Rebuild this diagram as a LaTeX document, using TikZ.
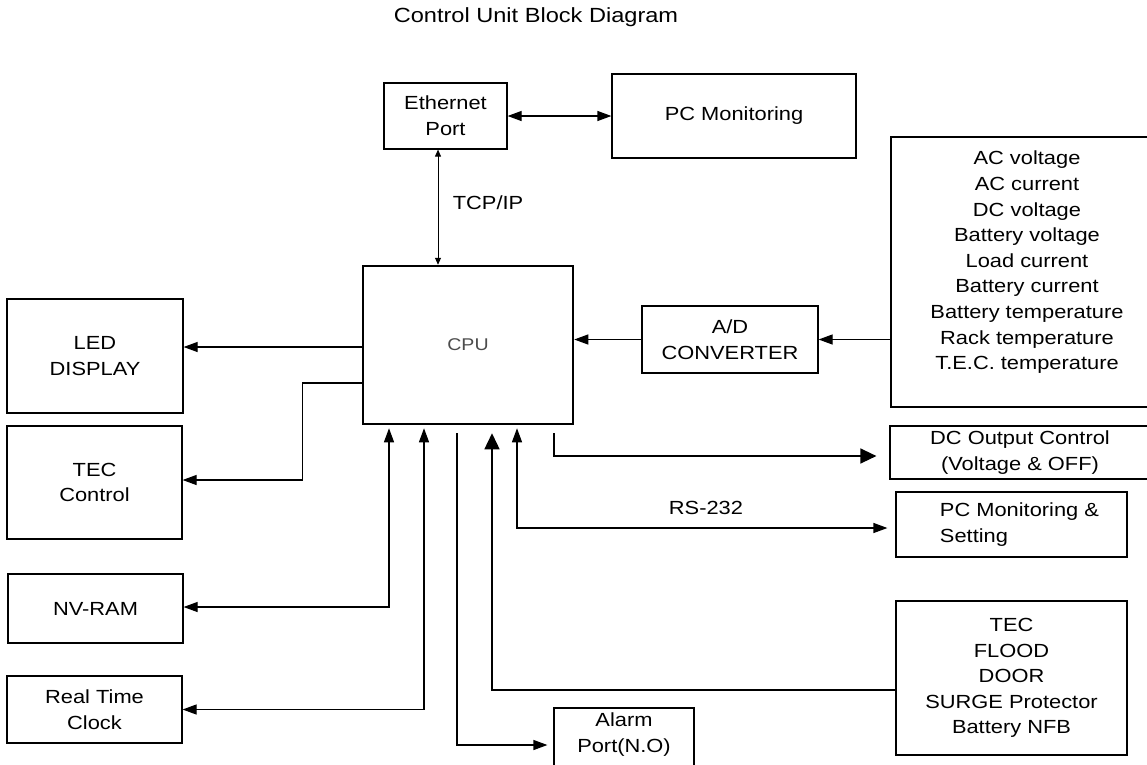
\documentclass[tikz,border=0pt]{standalone}
\usepackage{fontspec}
\setmainfont{Liberation Sans}[FakeStretch=1.15]
\usepackage{tikz}
\usetikzlibrary{positioning,arrows.meta}

\tikzset{
  blk/.style={draw,line width=1.2pt,rectangle,inner sep=0pt,align=center,
    font=\fontsize{19}{25.6}\selectfont},
  lbl/.style={inner sep=0pt,font=\fontsize{19}{25.6}\selectfont},
  arr/.style={line width=1.2pt,-{Triangle[length=14pt,width=10pt]}},
  dbl/.style={line width=1.2pt,{Triangle[length=14pt,width=10pt]}-{Triangle[length=14pt,width=10pt]}},
  bigarr/.style={line width=1.4pt,-{Triangle[length=16pt,width=15pt]}},
  thinarr/.style={line width=0.9pt,{Triangle[length=7pt,width=6pt]}-{Triangle[length=7pt,width=6pt]}}
}

\begin{document}
\begin{tikzpicture}[x=1pt,y=-1pt]
  \useasboundingbox (0,0) rectangle (1147,764);
  \node[lbl,font=\fontsize{20.5}{24}\selectfont] (title) at (536,17) {Control Unit Block Diagram};

  % top
  \node[blk,minimum width=123pt,minimum height=66pt] (eth) at (445.5,116) {Ethernet\\Port};
  \node[blk,minimum width=244pt,minimum height=84pt] (pcmon) at (734,116) {PC Monitoring};

  % middle
  \node[blk,line width=2.5pt,minimum width=210pt,minimum height=158pt,text=black!70,
    font=\fontsize{17}{20}\selectfont] (cpu) at (468,345) {CPU};
  \node[blk,minimum width=176pt,minimum height=67pt] (adc) at (730,339.5) {A/D\\CONVERTER};
  \node[blk,minimum width=272pt,minimum height=270pt,text depth=23pt] (sens) at (1027,272)
    {AC voltage\\AC current\\DC voltage\\Battery voltage\\Load current\\Battery current\\Battery temperature\\Rack temperature\\T.E.C. temperature};

  % left
  \node[blk,minimum width=176pt,minimum height=114pt] (led) at (95,356) {LED\\DISPLAY};
  \node[blk,minimum width=175pt,minimum height=113pt] (teco) at (94.5,482.5) {TEC\\Control};
  \node[blk,minimum width=175pt,minimum height=69pt] (nvram) at (95.5,608.5) {NV-RAM};
  \node[blk,minimum width=175pt,minimum height=67pt] (rtc) at (94.5,709.5) {Real Time\\Clock};

  % right / bottom
  \node[blk,minimum width=260pt,minimum height=53pt] (dcout) at (1020,452.5) {DC Output Control\\(Voltage \& OFF)};
  \node[blk,minimum width=231pt,minimum height=65pt,align=left] (pcset) at (1011.5,524.5)
    {\hspace*{16pt}PC Monitoring \&\\\hspace*{16pt}Setting};
  \node[blk,minimum width=231pt,minimum height=154pt] (tecin) at (1011.5,678) {TEC\\FLOOD\\DOOR\\SURGE Protector\\Battery NFB};
  \node[blk,minimum width=140pt,minimum height=62pt,text depth=13pt] (alarm) at (624,739) {Alarm\\Port(N.O)};

  % connections
  \draw[dbl] (eth.east) -- (pcmon.west);
  \coordinate (tcp) at ([xshift=-7.5pt]eth.south);
  \draw[thinarr] (tcp) -- (tcp |- cpu.north);
  \node[lbl] (tcplbl) at (488,203) {TCP/IP};

  \draw[arr] (adc.west) -- (adc.west -| cpu.east);
  \draw[arr] (sens.west |- adc.east) -- (adc.east);

  \coordinate (ledin) at ([yshift=9pt]led.east);
  \draw[arr] (ledin -| cpu.west) -- (ledin);
  \coordinate (tecout) at ([yshift=-38pt]cpu.west);
  \draw[arr] (tecout) -- ++(-59,0) |- ([yshift=2.5pt]teco.east);

  \draw[dbl,shorten <=3pt] ([xshift=-79pt]cpu.south) |- ([yshift=1.5pt]nvram.east);
  \draw[dbl,shorten <=3pt] ([xshift=-44pt]cpu.south) |- (rtc.east);
  \draw[arr,shorten >=6pt] ([xshift=-11pt,yshift=-8pt]cpu.south) |- ([yshift=-6pt]alarm.west);
  \draw[bigarr,shorten >=8pt] ([yshift=-12pt]tecin.west) -| ([xshift=24pt]cpu.south);
  \draw[dbl,shorten <=3pt,shorten >=8pt] ([xshift=49pt]cpu.south) |- ([yshift=-3.5pt]pcset.west);
  \node[lbl] (rslbl) at (706,508) {RS-232};
  \draw[bigarr,shorten >=13pt] ([xshift=86pt,yshift=-8pt]cpu.south) |- ([yshift=-3.5pt]dcout.west);
\end{tikzpicture}
\end{document}
